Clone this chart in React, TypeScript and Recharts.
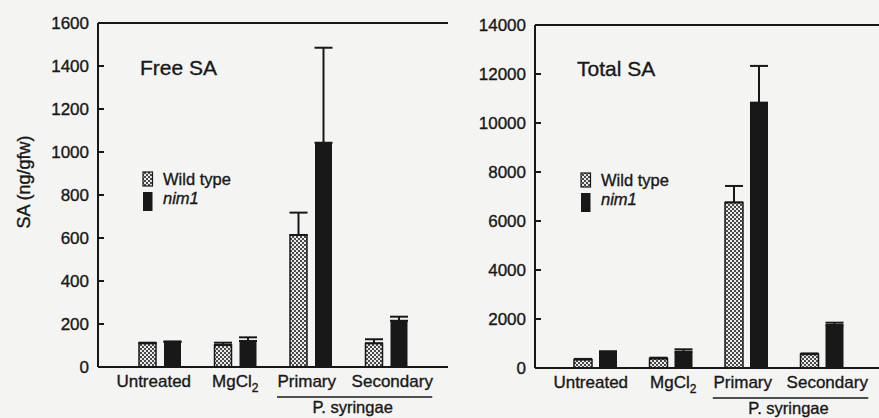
import React from 'react';
import { BarChart, Bar, XAxis, YAxis, ErrorBar, ReferenceLine, Customized } from 'recharts';

const INK = '#181818';
const BG = '#f4f4f2';
const FONT = '"Liberation Sans", Arial, Helvetica, sans-serif';
// scanned type looks a little heavier than plain Arial
const heavy = { stroke: INK, strokeWidth: 0.35 };

// categories shared by both panels
const categories = ['Untreated', 'MgCl2', 'Primary', 'Secondary'];

// Free SA (ng/gfw)
const freeWild = [110, 102, 614, 110];
const freeWildErr = [3, 11, 104, 19];
const freeNim = [116, 121, 1043, 215];
const freeNimErr = [3, 17, 442, 19];
const freeTicks = [0, 200, 400, 600, 800, 1000, 1200, 1400, 1600];

// Total SA (ng/gfw)
const totalWild = [350, 385, 6760, 565];
const totalWildErr = [20, 35, 670, 30];
const totalNim = [665, 665, 10830, 1755];
const totalNimErr = [15, 98, 1500, 95];
const totalTicks = [0, 2000, 4000, 6000, 8000, 10000, 12000, 14000];

const build = (w: number[], we: number[], n: number[], ne: number[]) =>
  categories.map((name, i) => ({
    name,
    wild: w[i],
    wildErr: [0, we[i]],
    nim: n[i],
    nimErr: [0, ne[i]],
  }));

const freeData = build(freeWild, freeWildErr, freeNim, freeNimErr);
const totalData = build(totalWild, totalWildErr, totalNim, totalNimErr);

const leftTick = (props: any) => {
  const { x, y, payload } = props;
  return (
    <g>
      {payload.value !== 0 && <line x1={x} x2={x + 6} y1={y} y2={y} stroke={INK} strokeWidth={2} />}
      <text x={x - 9} y={y} dy={6} textAnchor="end" fontSize={17} fill={INK} {...heavy}>
        {payload.value}
      </text>
    </g>
  );
};

const rightTick = (props: any) => {
  const { x, y, payload } = props;
  if (payload.value === 0) return <g />;
  return <line x1={x} x2={x - 6} y1={y} y2={y} stroke={INK} strokeWidth={2} />;
};

const catTick = (shifts: number[], band: number, labelY: number) => (props: any) => {
  const { x, y, payload, index } = props;
  const cx = x + (shifts[index] || 0);
  const label = payload.value;
  return (
    <g>
      {label === 'MgCl2' ? (
        <text x={cx} y={y + labelY} textAnchor="middle" fontSize={17} fill={INK} {...heavy}>
          <tspan>MgCl</tspan>
          <tspan dy={5} fontSize={12}>2</tspan>
        </text>
      ) : (
        <text x={cx} y={y + labelY} textAnchor="middle" fontSize={17} fill={INK} {...heavy}>
          {label}
        </text>
      )}
      {label === 'Secondary' && (
        <g>
          <line x1={x - band - 34} x2={x + 46} y1={y + 30} y2={y + 30} stroke={INK} strokeWidth={1.5} />
          <text x={x - band / 2 + 4} y={y + 46} textAnchor="middle" fontSize={16.5} fill={INK} {...heavy}>
            P. syringae
          </text>
        </g>
      )}
    </g>
  );
};

const Legend = ({ x, y, title, tx, ty }: { x: number; y: number; title: string; tx: number; ty: number }) => (
  <g>
    <text x={tx} y={ty} fontSize={21} fill={INK} {...heavy}>
      {title}
    </text>
    <rect x={x} y={y} width={9.5} height={14} fill="url(#wt-dots)" stroke={INK} strokeWidth={1.2} />
    <rect x={x} y={y + 20} width={9.5} height={19} fill={INK} />
    <text x={x + 20} y={y + 12.5} fontSize={16.5} fill={INK} {...heavy}>
      Wild type
    </text>
    <text x={x + 20} y={y + 32} fontSize={16.5} fontStyle="italic" fill={INK} {...heavy}>
      nim1
    </text>
  </g>
);

export default function App() {
  return (
    <div
      style={{
        position: 'absolute',
        left: 0,
        top: 0,
        width: 879,
        height: 418,
        overflow: 'hidden',
        background: BG,
        fontFamily: FONT,
      }}
    >
      <svg width={0} height={0} style={{ position: 'absolute' }}>
        <defs>
          <pattern id="wt-dots" width={4} height={4} patternUnits="userSpaceOnUse">
            <rect width={4} height={4} fill="#eaeaea" />
            <rect x={0} y={0} width={2} height={2} fill="#4a4a4a" />
            <rect x={2} y={2} width={2} height={2} fill="#4a4a4a" />
          </pattern>
        </defs>
      </svg>

      {/* Free SA */}
      <div style={{ position: 'absolute', left: 0, top: 0 }}>
        <BarChart
          width={451}
          height={418}
          data={freeData}
          margin={{ top: 23, right: 3, left: 0, bottom: 0 }}
          barGap={8}
        >
          <XAxis
            dataKey="name"
            height={51}
            interval={0}
            padding={{ left: 24, right: 24 }}
            axisLine={{ stroke: INK, strokeWidth: 2 }}
            tickLine={false}
            tickSize={0}
            tickMargin={0}
            tick={catTick([-6, 0, -4, 6], 75.25, 20)}
          />
          <YAxis
            width={98}
            domain={[0, 1600]}
            ticks={freeTicks}
            interval={0}
            axisLine={{ stroke: INK, strokeWidth: 2 }}
            tickLine={false}
            tickSize={0}
            tickMargin={0}
            tick={leftTick}
          />
          <YAxis
            yAxisId="r"
            orientation="right"
            width={0}
            domain={[0, 1600]}
            ticks={freeTicks}
            interval={0}
            axisLine={{ stroke: INK, strokeWidth: 2 }}
            tickLine={false}
            tickSize={0}
            tickMargin={0}
            tick={rightTick}
          />
          <ReferenceLine y={1600} stroke={INK} strokeWidth={2} />
          <Bar dataKey="wild" fill="url(#wt-dots)" stroke={INK} strokeWidth={1.5} barSize={17} isAnimationActive={false}>
            <ErrorBar dataKey="wildErr" width={9} strokeWidth={2} stroke={INK} direction="y" />
          </Bar>
          <Bar dataKey="nim" fill={INK} barSize={17} isAnimationActive={false}>
            <ErrorBar dataKey="nimErr" width={9} strokeWidth={2} stroke={INK} direction="y" />
          </Bar>
          <Customized
            component={() => (
              <g>
                <text transform="translate(30,182) rotate(-90)" textAnchor="middle" fontSize={18} fill={INK} {...heavy}>
                  SA (ng/gfw)
                </text>
                <Legend x={143} y={172} title="Free SA" tx={140} ty={75} />
              </g>
            )}
          />
        </BarChart>
      </div>

      {/* Total SA */}
      <div style={{ position: 'absolute', left: 440, top: 0 }}>
        <BarChart
          width={442}
          height={418}
          data={totalData}
          margin={{ top: 25, right: 2, left: 0, bottom: 0 }}
          barGap={7}
        >
          <XAxis
            dataKey="name"
            height={50}
            interval={0}
            padding={{ left: 23, right: 20 }}
            axisLine={{ stroke: INK, strokeWidth: 2 }}
            tickLine={false}
            tickSize={0}
            tickMargin={0}
            tick={catTick([-5, 2, -4, 5], 75.5, 20)}
          />
          <YAxis
            width={95}
            domain={[0, 14000]}
            ticks={totalTicks}
            interval={0}
            axisLine={{ stroke: INK, strokeWidth: 2 }}
            tickLine={false}
            tickSize={0}
            tickMargin={0}
            tick={leftTick}
          />
          <YAxis
            yAxisId="r"
            orientation="right"
            width={0}
            domain={[0, 14000]}
            ticks={totalTicks}
            interval={0}
            axisLine={{ stroke: INK, strokeWidth: 2 }}
            tickLine={false}
            tickSize={0}
            tickMargin={0}
            tick={rightTick}
          />
          <ReferenceLine y={14000} stroke={INK} strokeWidth={2} />
          <Bar dataKey="wild" fill="url(#wt-dots)" stroke={INK} strokeWidth={1.5} barSize={18} isAnimationActive={false}>
            <ErrorBar dataKey="wildErr" width={9} strokeWidth={2} stroke={INK} direction="y" />
          </Bar>
          <Bar dataKey="nim" fill={INK} barSize={18} isAnimationActive={false}>
            <ErrorBar dataKey="nimErr" width={9} strokeWidth={2} stroke={INK} direction="y" />
          </Bar>
          <Customized component={() => <Legend x={141} y={173} title="Total SA" tx={137} ty={76} />} />
        </BarChart>
      </div>
    </div>
  );
}
